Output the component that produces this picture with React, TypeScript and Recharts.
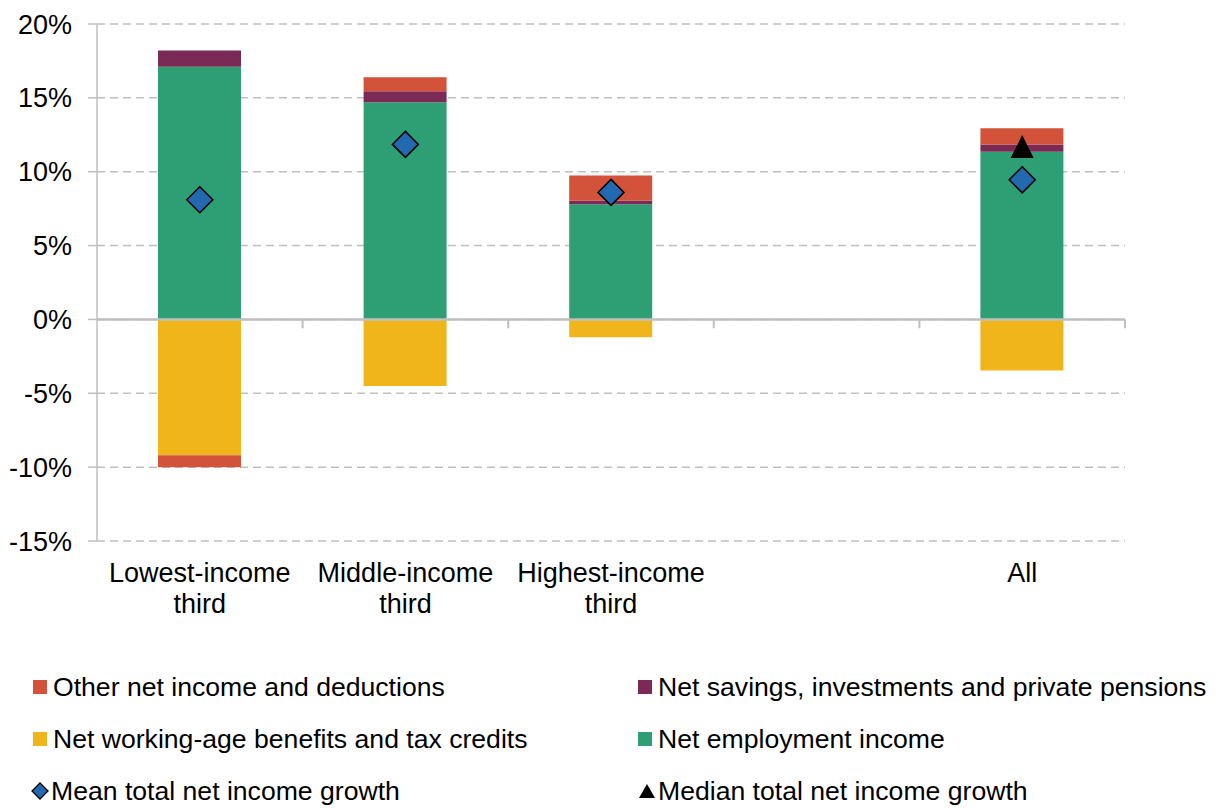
import { ComposedChart, Bar, Scatter, XAxis, YAxis, CartesianGrid, ReferenceLine } from 'recharts';

const categories = ['Lowest-income third', 'Middle-income third', 'Highest-income third', '', 'All'];
const employment = [17.1, 14.7, 7.8, null, 11.35];
const benefits = [-9.2, -4.5, -1.2, null, -3.45];
const savings = [1.1, 0.75, 0.25, null, 0.5];
const other = [-0.8, 0.95, 1.7, null, 1.1];
const meanGrowth = [8.1, 11.85, 8.6, null, 9.45];
const medianGrowth = [null, null, null, null, 11.7];
const yTicks = [-15, -10, -5, 0, 5, 10, 15, 20];
// category edges where the small axis tick marks sit
const boundaries: [string, 'start' | 'end'][] = [
  ['Middle-income third', 'start'],
  ['Highest-income third', 'start'],
  ['', 'start'],
  ['All', 'start'],
  ['All', 'end'],
];

const FONT = '"Liberation Sans", Arial, sans-serif';
const FS = 27;
const LEGEND_FS = 26.6;
const GREY = '#BFBFBF';
const C_OTHER = '#D2523A';
const C_SAVINGS = '#7B2A55';
const C_BENEFITS = '#F0B51A';
const C_EMPLOY = '#2E9E74';
const C_MEAN = '#2369B0';

const data = categories.map((name, i) => ({
  name,
  employment: employment[i],
  benefits: benefits[i],
  savings: savings[i],
  other: other[i],
  mean: meanGrowth[i],
  median: medianGrowth[i],
}));

function CategoryTick(props: any) {
  const { x, y, payload } = props;
  const label: string = payload.value;
  if (!label) return <g />;
  const idx = label.lastIndexOf(' ');
  const lines = idx > 0 ? [label.slice(0, idx), label.slice(idx + 1)] : [label];
  return (
    <text x={x} y={y} textAnchor="middle" fill="#000" fontSize={FS} fontFamily={FONT}>
      {lines.map((l, i) => (
        <tspan key={i} x={x} dy={i === 0 ? 41 : 31}>{l}</tspan>
      ))}
    </text>
  );
}

function Diamond(props: any) {
  const { cx, cy, payload } = props;
  if (payload?.mean == null || !Number.isFinite(cx) || !Number.isFinite(cy)) return <g />;
  const r = 13;
  return (
    <path
      d={`M${cx},${cy - r}L${cx + r},${cy}L${cx},${cy + r}L${cx - r},${cy}Z`}
      fill={C_MEAN}
      stroke="#000"
      strokeWidth={1.5}
    />
  );
}

function Triangle(props: any) {
  const { cx, cy, payload } = props;
  if (payload?.median == null || !Number.isFinite(cx) || !Number.isFinite(cy)) return <g />;
  const h = 11.5;
  return <path d={`M${cx},${cy - h}L${cx + h},${cy + h}L${cx - h},${cy + h}Z`} fill="#000" />;
}

function LegendItem({ left, top, icon, label }: { left: number; top: number; icon: any; label: string }) {
  return (
    <div style={{ position: 'absolute', left, top: top - 16, height: 32, display: 'flex', alignItems: 'center', whiteSpace: 'nowrap' }}>
      <div style={{ width: 20, display: 'flex', alignItems: 'center' }}>{icon}</div>
      <span style={{ fontSize: LEGEND_FS, fontFamily: FONT, color: '#000' }}>{label}</span>
    </div>
  );
}

const square = (c: string) => <div style={{ width: 14, height: 14, background: c }} />;
const diamondIcon = (
  <svg width={18} height={18}>
    <path d="M9,1L17,9L9,17L1,9Z" fill={C_MEAN} stroke="#000" strokeWidth={1.3} />
  </svg>
);
const triangleIcon = (
  <svg width={18} height={18}>
    <path d="M9,2L17,16L1,16Z" fill="#000" />
  </svg>
);

export default function App() {
  return (
    <div style={{ position: 'relative', width: 1213, height: 800 }}>
      <ComposedChart
        width={1130}
        height={623}
        data={data}
        stackOffset="sign"
        margin={{ top: 16, right: 13, left: 0, bottom: 0 }}
      >
        <CartesianGrid vertical={false} stroke={GREY} strokeWidth={1.5} strokeDasharray="8 5" />
        <XAxis
          dataKey="name"
          interval={0}
          axisLine={false}
          tickLine={false}
          tickSize={0}
          tickMargin={0}
          height={90}
          tick={<CategoryTick />}
        />
        <YAxis
          width={89}
          domain={[-15, 20]}
          ticks={yTicks}
          tickFormatter={(v: number) => `${v}%`}
          axisLine={{ stroke: GREY, strokeWidth: 1.5 }}
          tickLine={{ stroke: GREY, strokeWidth: 1.5 }}
          tickSize={9}
          tickMargin={16}
          tick={{ fill: '#000', fontSize: FS, fontFamily: FONT }}
        />
        <Bar dataKey="employment" stackId="a" fill={C_EMPLOY} barSize={83} isAnimationActive={false} />
        <Bar dataKey="benefits" stackId="a" fill={C_BENEFITS} barSize={83} isAnimationActive={false} />
        <Bar dataKey="savings" stackId="a" fill={C_SAVINGS} barSize={83} isAnimationActive={false} />
        <Bar dataKey="other" stackId="a" fill={C_OTHER} barSize={83} isAnimationActive={false} />
        <ReferenceLine y={0} stroke={GREY} strokeWidth={2.5} />
        {boundaries.map(([cat, pos], i) => (
          <ReferenceLine
            key={i}
            position={pos}
            segment={[{ x: cat, y: 0 }, { x: cat, y: -0.6 }]}
            stroke={GREY}
            strokeWidth={2}
          />
        ))}
        <Scatter dataKey="mean" shape={<Diamond />} isAnimationActive={false} />
        <Scatter dataKey="median" shape={<Triangle />} isAnimationActive={false} />
      </ComposedChart>
      <LegendItem left={25} top={679} icon={square(C_OTHER)} label="Other net income and deductions" />
      <LegendItem left={630} top={679} icon={square(C_SAVINGS)} label="Net savings, investments and private pensions" />
      <LegendItem left={25} top={731} icon={square(C_BENEFITS)} label="Net working-age benefits and tax credits" />
      <LegendItem left={630} top={731} icon={square(C_EMPLOY)} label="Net employment income" />
      <LegendItem left={23} top={783} icon={diamondIcon} label="Mean total net income growth" />
      <LegendItem left={630} top={783} icon={triangleIcon} label="Median total net income growth" />
    </div>
  );
}
